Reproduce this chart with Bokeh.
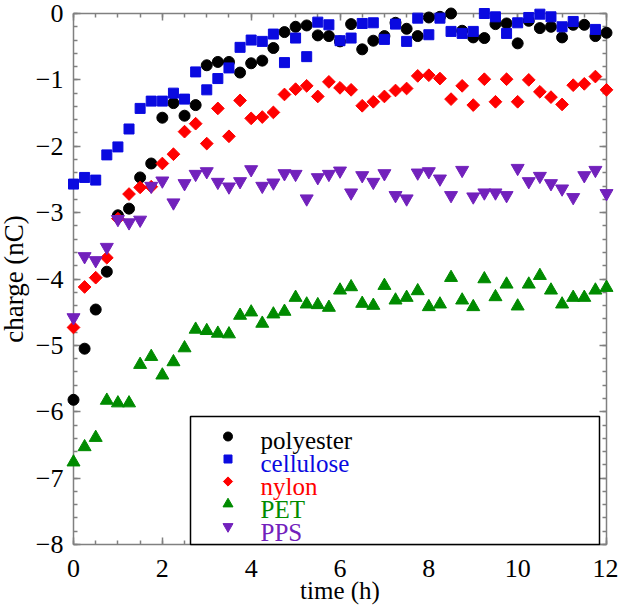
import math
import numpy as np
from bokeh.plotting import figure
from bokeh.models import (Range1d, SingleIntervalTicker, CustomJSTickFormatter, LinearAxis,
                          Label, BoxAnnotation)
from bokeh.embed import file_html
from bokeh.resources import INLINE

# ---------------- data ----------------
time_h = [0.0, 0.25, 0.5, 0.75, 1.0, 1.25, 1.5, 1.75, 2.0, 2.25, 2.5, 2.75,
          3.0, 3.25, 3.5, 3.75, 4.0, 4.25, 4.5, 4.75, 5.0, 5.25, 5.5, 5.75,
          6.0, 6.25, 6.5, 6.75, 7.0, 7.25, 7.5, 7.75, 8.0, 8.25, 8.5, 8.75,
          9.0, 9.25, 9.5, 9.75, 10.0, 10.25, 10.5, 10.75, 11.0, 11.25, 11.5, 11.75, 12.0]

polyester = [-5.82, -5.05, -4.46, -3.89, -3.04, -2.94, -2.47, -2.26, -1.57, -1.35, -1.54, -1.38,
             -0.78, -0.73, -0.73, -0.89, -0.75, -0.71, -0.52, -0.28, -0.20, -0.18, -0.33, -0.34,
             -0.42, -0.16, -0.54, -0.41, -0.34, -0.14, -0.23, -0.34, -0.06, -0.05, 0.0, -0.26,
             -0.36, -0.37, -0.16, -0.15, -0.45, -0.11, -0.22, -0.20, -0.36, -0.17, -0.17, -0.34, -0.29]

cellulose = [-2.57, -2.47, -2.51, -2.13, -2.01, -1.74, -1.43, -1.32, -1.32, -1.20, -1.29, -0.88,
             -1.15, -0.98, -0.82, -0.51, -0.40, -0.42, -0.31, -0.74, -0.37, -0.65, -0.13, -0.17,
             -0.41, -0.37, -0.15, -0.14, -0.39, -0.16, -0.42, -0.07, -0.32, -0.07, -0.27, -0.30,
             -0.27, 0.0, -0.05, -0.30, -0.14, -0.06, -0.01, -0.05, -0.20, -0.12, np.nan, -0.24, np.nan]

nylon = [-4.73, -4.12, -3.98, -3.68, -3.09, -2.72, -2.62, -2.61, -2.26, -2.12, -1.78, -1.66,
         -1.96, -1.43, -1.85, -1.31, -1.58, -1.56, -1.49, -1.22, -1.14, -1.09, -1.25, -1.03,
         -1.12, -1.15, -1.39, -1.33, -1.25, -1.16, -1.13, -0.94, -0.93, -0.98, -1.29, -1.09,
         -1.38, -0.99, -1.33, -0.99, -1.33, -1.00, -1.18, -1.26, -1.37, -1.08, -1.06, -0.95, -1.15]

pet = [-6.76, -6.53, -6.39, -5.83, -5.87, -5.87, -5.29, -5.17, -5.45, -5.25, -5.04, -4.76,
       -4.78, -4.82, -4.83, -4.55, -4.50, -4.67, -4.53, -4.49, -4.28, -4.38, -4.39, -4.43,
       -4.17, -4.12, -4.37, -4.40, -4.10, -4.32, -4.28, -4.18, -4.42, -4.38, -3.98, -4.32,
       -4.42, -4.00, -4.27, -4.08, -4.41, -4.08, -3.95, -4.17, -4.38, -4.28, -4.28, -4.17, -4.13]

pps = [-4.58, -3.66, -3.72, -3.52, -3.10, -3.15, -3.11, -2.60, -2.52, -2.85, -2.56, -2.42,
       -2.38, -2.54, -2.61, -2.53, -2.35, -2.60, -2.55, -2.41, -2.42, -2.79, -2.47, -2.42,
       -2.37, -2.70, -2.44, -2.54, -2.41, -2.74, -2.79, -2.40, -2.38, -2.49, -2.74, -2.36,
       -2.76, -2.70, -2.70, -2.74, -2.33, -2.53, -2.45, -2.56, -2.64, -2.77, -2.44, -2.36, -2.71]

series_names = ["polyester", "cellulose", "nylon", "PET", "PPS"]

# ---------------- layout / styles ----------------
W, H = 618, 606
AX_L, AX_R, AX_T, AX_B = 73, 606, 13, 544     # pixel box of the axes
X0, X1, Y0, Y1 = 0, 12, -8, 0                  # axis limits
SX = (AX_R - AX_L) / (X1 - X0)                 # px per unit
SY = (AX_B - AX_T) / (Y1 - Y0)
# the frame fills the whole canvas so that markers on the axes are not clipped
XR_START, XR_END = X0 - AX_L / SX, X1 + (W - AX_R) / SX
YR_START, YR_END = Y0 - (H - AX_B) / SY, Y1 + AX_T / SY

FONT = "Liberation Serif"
FS = "25px"
TICK_FS = "26px"
AXIS_COLOR = "#808080"
BLACK = "#000000"
BLUE = "#0a0ae0"
RED = "#ff0000"
GREEN = "#008b00"
PURPLE = "#7221bc"
colors = [BLACK, BLUE, RED, GREEN, PURPLE]

p = figure(width=W, height=H, x_range=Range1d(XR_START, XR_END), y_range=Range1d(YR_START, YR_END),
           output_backend="svg", toolbar_location=None, title=None,
           min_border_left=0, min_border_right=0, min_border_top=0, min_border_bottom=0)
p.outline_line_color = None
p.grid.visible = False
p.background_fill_color = "white"
p.border_fill_color = "white"

xfmt = CustomJSTickFormatter(code="return Math.abs(tick) < 1e-9 ? '0' : tick.toFixed(0);")
yfmt = CustomJSTickFormatter(code="return (tick < -1e-9 ? '\u2212' : '') + Math.abs(tick).toFixed(0);")
blank = CustomJSTickFormatter(code="return '';")


def style_axis(ax):
    ax.level = "underlay"          # markers are drawn on top of the axis lines
    ax.axis_line_color = AXIS_COLOR
    ax.axis_line_width = 1.5
    ax.major_tick_line_color = AXIS_COLOR
    ax.minor_tick_line_color = AXIS_COLOR
    ax.major_tick_line_width = 1.5
    ax.minor_tick_line_width = 1.5
    ax.major_tick_in = 7
    ax.major_tick_out = 0
    ax.minor_tick_in = 4
    ax.minor_tick_out = 0
    ax.major_label_text_font = FONT
    ax.major_label_text_font_size = TICK_FS
    ax.major_label_text_color = "black"
    ax.axis_label_text_font = FONT
    ax.axis_label_text_font_size = FS
    ax.axis_label_text_font_style = "normal"
    ax.axis_label_text_color = "black"


xb = p.below[0]
xb.ticker = SingleIntervalTicker(interval=2, num_minor_ticks=4)
xb.formatter = xfmt
xb.fixed_location = Y0
xb.bounds = (X0, X1)
style_axis(xb)
xb.major_label_standoff = 15
xb.axis_label = "time (h)"
xb.axis_label_standoff = -3

yl = p.left[0]
yl.ticker = SingleIntervalTicker(interval=1, num_minor_ticks=5)
yl.formatter = yfmt
yl.fixed_location = X0
yl.bounds = (Y0, Y1)
style_axis(yl)
yl.major_label_standoff = 10
yl.axis_label = "charge (nC)"
yl.axis_label_text_font_size = "27px"
yl.axis_label_standoff = 4

xt = LinearAxis(ticker=SingleIntervalTicker(interval=2, num_minor_ticks=4), formatter=blank,
                fixed_location=Y1, bounds=(X0, X1))
style_axis(xt)
xt.major_label_text_font_size = "1px"
xt.major_label_standoff = 0
p.add_layout(xt, "above")
yr = LinearAxis(ticker=SingleIntervalTicker(interval=1, num_minor_ticks=5), formatter=blank,
                fixed_location=X1, bounds=(Y0, Y1))
style_axis(yr)
yr.major_label_text_font_size = "1px"
yr.major_label_standoff = 0
p.add_layout(yr, "right")

# ---------------- data marks ----------------
marker_specs = [
    dict(marker="circle", size=11, angle=0.0),
    dict(marker="square", size=10, angle=0.0),
    dict(marker="square", size=9, angle=math.pi / 4),
    dict(marker="triangle", size=13, angle=0.0),
    dict(marker="inverted_triangle", size=13, angle=0.0),
]
all_series = [polyester, cellulose, nylon, pet, pps]
for ys, spec, c in zip(all_series, marker_specs, colors):
    p.scatter(time_h, ys, marker=spec["marker"], size=spec["size"], angle=spec["angle"],
              fill_color=c, line_color=c)

# ---------------- legend (boxed key, positions given in pixels) ----------------
def px_to_x(px):
    return X0 + (px - AX_L) / SX


def py_to_y(py):
    return Y1 - (py - AX_T) / SY


box = BoxAnnotation(left=px_to_x(190), right=px_to_x(599), bottom=Y0, top=py_to_y(416),
                    fill_color="white", fill_alpha=1.0,
                    line_color="black", line_alpha=1.0, line_width=1.5)
p.add_layout(box)

key_marker_px = 227.5
key_text_px = 260
key_rows_py = [436, 458.5, 481, 503.5, 526]
key_base_py = [439.5, 462.5, 485.5, 508.5, 531.5]
key_sizes = [9, 8, 6.5, 10, 10]
for name, spec, c, ry, by, ks in zip(series_names, marker_specs, colors, key_rows_py, key_base_py, key_sizes):
    p.scatter([px_to_x(key_marker_px)], [py_to_y(ry)], marker=spec["marker"], size=ks,
              angle=spec["angle"], fill_color=c, line_color=c, level="overlay")
    p.add_layout(Label(x=key_text_px, y=H - by, x_units="screen", y_units="screen",
                       text=name, text_align="left", text_baseline="alphabetic",
                       text_font=FONT, text_font_size=FS, text_color=c))

open("out.html", "w").write(file_html(p, INLINE))
